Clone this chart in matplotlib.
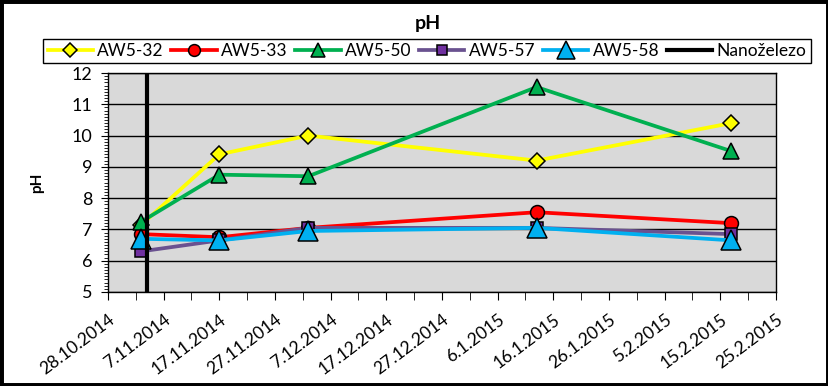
import pandas as pd
import matplotlib
matplotlib.use("Agg")
import matplotlib.pyplot as plt
from matplotlib.patches import Rectangle

plt.rcParams['font.family'] = ['Lato', 'DejaVu Sans']

# Data
dates = pd.to_datetime(['2014-11-03', '2014-11-17', '2014-12-03', '2015-01-13', '2015-02-17'])
aw5_32 = [7.15, 9.4, 10.0, 9.2, 10.4]
aw5_33 = [6.85, 6.75, 7.05, 7.55, 7.2]
aw5_50 = [7.25, 8.75, 8.7, 11.55, 9.5]
aw5_57 = [6.3, 6.65, 7.05, 7.05, 6.85]
aw5_58 = [6.7, 6.65, 6.95, 7.05, 6.65]
nano_date = pd.to_datetime(['2014-11-04', '2014-11-04'])
nano_ph = [5, 12]

x_start, x_end = pd.Timestamp('2014-10-28'), pd.Timestamp('2015-02-25')
major_ticks = pd.date_range(x_start, x_end, freq='10D')
minor_ticks = pd.date_range(x_start, x_end, freq='5D')

fig = plt.figure(figsize=(8.29, 3.86), dpi=100)
ax = fig.add_axes([108/829, 1 - 292/386, 668/829, 219/386])
ax.set_facecolor('#D9D9D9')

lw = 2.7
ax.plot(dates, aw5_32, color='#FFFF00', lw=lw, marker='D', ms=8.5, mfc='#FFFF00', mec='black', mew=1.1, label='AW5-32', zorder=3)
ax.plot(dates, aw5_33, color='#FF0000', lw=lw, marker='o', ms=10, mfc='#FF0000', mec='black', mew=1.1, label='AW5-33', zorder=3)
ax.plot(dates, aw5_50, color='#00B050', lw=lw, marker='^', ms=12, mfc='#00B050', mec='black', mew=1.1, label='AW5-50', zorder=3)
ax.plot(dates, aw5_57, color='#6A5290', lw=lw, marker='s', ms=9, mfc='#7030A0', mec='black', mew=1.1, label='AW5-57', zorder=3)
ax.plot(dates, aw5_58, color='#00B0F0', lw=lw, marker='^', ms=15, mfc='#00B0F0', mec='black', mew=1.1, label='AW5-58', zorder=3)
ax.plot(nano_date, nano_ph, color='black', lw=3, label='Nanoželezo', zorder=4)

ax.set_xlim(x_start, x_end)
ax.set_ylim(5, 12)
ax.set_yticks(range(5, 13))
ax.set_yticks([5 + i * 0.1 for i in range(71)], minor=True)
ax.set_xticks(major_ticks)
ax.set_xticks(minor_ticks, minor=True)
ax.set_xticklabels([f"{d.day}.{d.month}.{d.year}" for d in major_ticks],
                   rotation=37, ha='right', va='top', rotation_mode='anchor')
ax.tick_params(axis='both', which='both', direction='out', color='black')
ax.tick_params(axis='x', which='both', length=6, pad=8, labelsize=12.5)
ax.tick_params(axis='y', which='major', length=5, pad=6, labelsize=13)
ax.tick_params(axis='y', which='minor', length=3)
ax.grid(axis='y', which='major', color='black', lw=1)
ax.set_axisbelow(True)
for s in ax.spines.values():
    s.set_color('black')
    s.set_linewidth(1)

ax.set_ylabel('pH', fontsize=11, fontweight='bold', labelpad=20)
fig.text(428/829, 1 - 23/386, 'pH', ha='center', va='center', fontsize=14, fontweight='bold')

leg = fig.legend(loc='center', bbox_to_anchor=(427/829, 1 - 51/386), ncol=6, frameon=True,
                 fancybox=False, edgecolor='black', framealpha=1, numpoints=1,
                 handlelength=2.6, handletextpad=0.25, columnspacing=0.45, borderpad=0.25,
                 prop={'size': 12.5})
leg.get_frame().set_linewidth(1)
for h in leg.legend_handles:
    h.set_markersize(h.get_markersize() * 0.85)

fig.patches.append(Rectangle((0, 0), 1, 1, transform=fig.transFigure, fill=False,
                             edgecolor='black', linewidth=5))

fig.savefig('out.png', dpi=100)
